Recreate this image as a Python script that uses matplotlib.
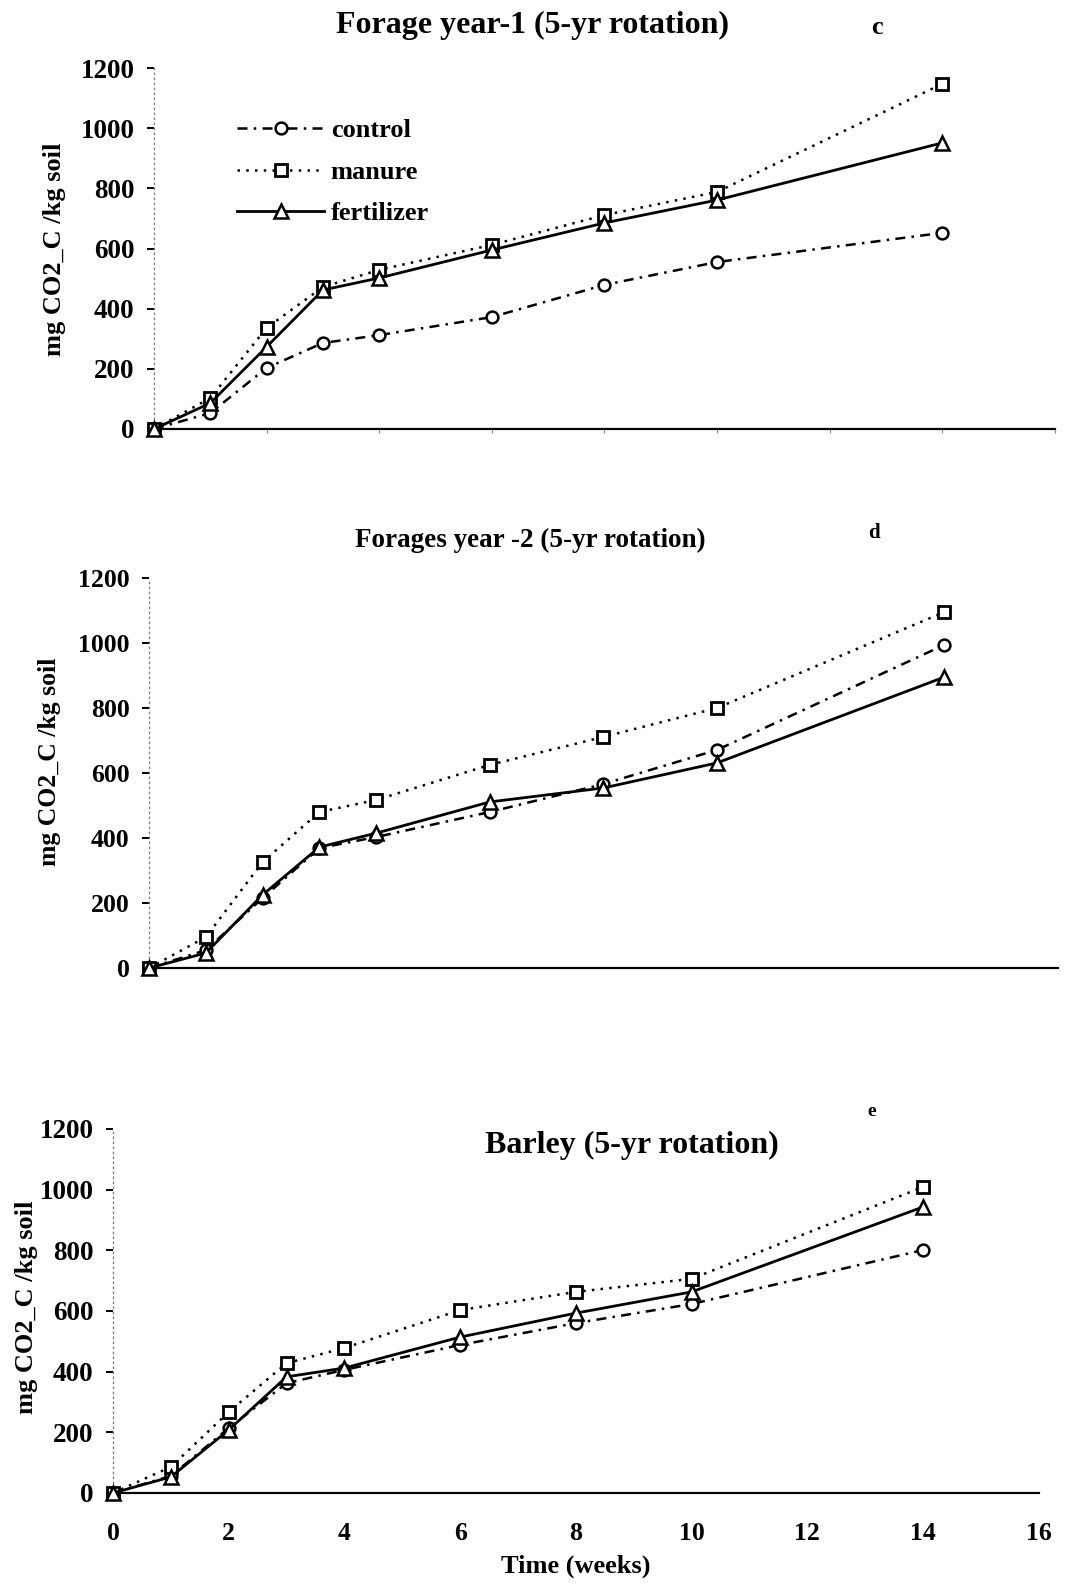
import matplotlib
matplotlib.use("Agg")
import matplotlib.pyplot as plt

plt.rcParams['font.family'] = ['Liberation Serif', 'DejaVu Serif']
plt.rcParams['font.weight'] = 'bold'

weeks = [0, 1, 2, 3, 4, 6, 8, 10, 14]

# panel c - forage year 1
c_control = [0, 53, 203, 286, 312, 372, 479, 555, 652]
c_manure = [0, 103, 336, 472, 529, 612, 711, 788, 1147]
c_fert = [0, 86, 273, 462, 502, 595, 685, 761, 951]

# panel d - forages year 2
d_control = [0, 55, 215, 369, 403, 480, 566, 671, 994]
d_manure = [0, 95, 326, 480, 517, 625, 711, 800, 1095]
d_fert = [0, 46, 225, 372, 415, 511, 554, 631, 895]

# panel e - barley
e_control = [0, 56, 214, 362, 406, 488, 560, 623, 801]
e_manure = [0, 86, 267, 428, 478, 603, 663, 706, 1009]
e_fert = [0, 53, 208, 383, 412, 514, 593, 663, 943]

yticks = [0, 200, 400, 600, 800, 1000, 1200]
xticks = [0, 2, 4, 6, 8, 10, 12, 14, 16]

W, H = 1075, 1586
fig = plt.figure(figsize=(W / 100, H / 100), dpi=100)


def px_axes(x0, x1, ytop, ybot):
    return fig.add_axes([x0 / W, 1 - ybot / H, (x1 - x0) / W, (ybot - ytop) / H])


def draw_panel(ax, control, manure, fert, tick_size=19.5):
    ax.plot(weeks, control, color='black', lw=1.8, linestyle=(0, (4, 2.5, 1, 2.5)),
            marker='o', ms=8.5, mfc='white', mec='black', mew=1.8, clip_on=False,
            label='control', zorder=3)
    ax.plot(weeks, manure, color='black', lw=1.8, linestyle=(0, (1, 2.5)),
            marker='s', ms=8.5, mfc='white', mec='black', mew=2, clip_on=False,
            label='manure', zorder=3)
    ax.plot(weeks, fert, color='black', lw=2, linestyle='-',
            marker='^', ms=9.5, mfc='white', mec='black', mew=1.8, clip_on=False,
            label='fertilizer', zorder=3)
    ax.set_xlim(0, 16)
    ax.set_ylim(0, 1200)
    ax.set_yticks(yticks)
    ax.set_xticks(xticks)
    for s in ['top', 'right']:
        ax.spines[s].set_visible(False)
    ax.spines['left'].set_linestyle((0, (1, 3)))
    ax.spines['left'].set_color('#777777')
    ax.spines['left'].set_linewidth(0.9)
    ax.spines['bottom'].set_linewidth(1.6)
    ax.tick_params(axis='y', length=5, width=1.4, pad=9, labelsize=tick_size)
    ax.tick_params(axis='x', length=3, width=0.8, color='#888888', labelsize=18.5, pad=21)
    for lab in ax.get_yticklabels() + ax.get_xticklabels():
        lab.set_fontweight('bold')


# top panel
ax1 = px_axes(154, 154 + 16 * 56.3, 68, 429)
draw_panel(ax1, c_control, c_manure, c_fert)
ax1.set_xticklabels([])
fig.text(532 / W, 1 - 25 / H, 'Forage year-1 (5-yr rotation)', ha='center', va='center',
         fontsize=23, fontweight='bold')
fig.text(877 / W, 1 - 27 / H, 'c', ha='center', va='center', fontsize=19, fontweight='bold')
fig.text(55 / W, 1 - 249 / H, 'mg CO2_C /kg soil', rotation=90, ha='center', va='center',
         fontsize=19, fontweight='bold')
ax1.legend(loc='upper left', bbox_to_anchor=(237 / W, 1 - 119 / H),
           bbox_transform=fig.transFigure, frameon=False, borderpad=0, borderaxespad=0,
           handlelength=3.3, handletextpad=0.25, labelspacing=0.68, numpoints=1,
           prop={'size': 19, 'weight': 'bold'})

# middle panel
ax2 = px_axes(149, 149 + 16 * 56.8, 578, 968)
draw_panel(ax2, d_control, d_manure, d_fert, tick_size=18.5)
ax2.set_xticklabels([])
ax2.tick_params(axis='x', length=0)
fig.text(530 / W, 1 - 540 / H, 'Forages year -2 (5-yr rotation)', ha='center', va='center',
         fontsize=19.5, fontweight='bold')
fig.text(874 / W, 1 - 533 / H, 'd', ha='center', va='center', fontsize=15, fontweight='bold')
fig.text(50 / W, 1 - 762 / H, 'mg CO2_C /kg soil', rotation=90, ha='center', va='center',
         fontsize=18.5, fontweight='bold')

# bottom panel
ax3 = px_axes(113, 113 + 16 * 57.86, 1129, 1493)
draw_panel(ax3, e_control, e_manure, e_fert)
ax3.tick_params(axis='x', length=0)
ax3.set_xlabel('Time (weeks)', fontsize=19, fontweight='bold', labelpad=7)
fig.text(632 / W, 1 - 1145 / H, 'Barley (5-yr rotation)', ha='center', va='center',
         fontsize=23, fontweight='bold')
fig.text(872 / W, 1 - 1112 / H, 'e', ha='center', va='center', fontsize=14, fontweight='bold')
fig.text(27 / W, 1 - 1307 / H, 'mg CO2_C /kg soil', rotation=90, ha='center', va='center',
         fontsize=19, fontweight='bold')

fig.savefig('out.png', dpi=100, facecolor='white')
